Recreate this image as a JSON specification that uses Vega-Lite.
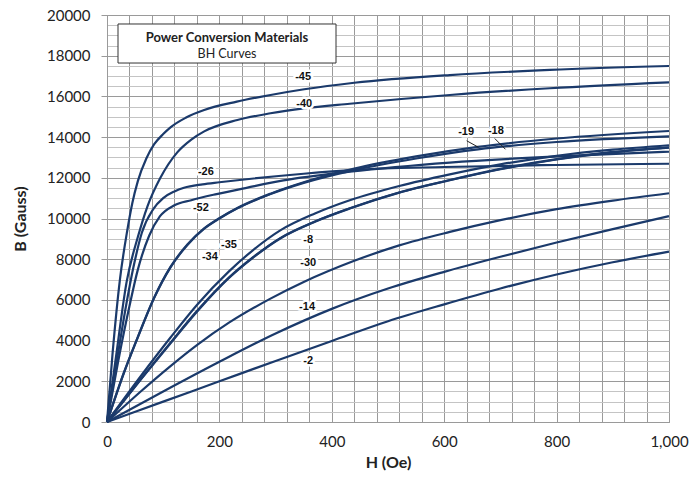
{
  "$schema": "https://vega.github.io/schema/vega-lite/v6.json",
  "width": 562,
  "height": 407,
  "autosize": {"type": "none"},
  "padding": {"left": 107, "top": 15, "right": 27, "bottom": 59},
  "background": "white",
  "config": {"view": {"stroke": "#999999", "strokeWidth": 1}, "font": "Lato"},
  "datasets": {
    "curves": [
      {"m": "-45", "h": 0, "b": 0}, {"m": "-45", "h": 10, "b": 3400}, {"m": "-45", "h": 23, "b": 7000}, {"m": "-45", "h": 36, "b": 9400}, {"m": "-45", "h": 45, "b": 10750}, {"m": "-45", "h": 55, "b": 11850}, {"m": "-45", "h": 70, "b": 12950}, {"m": "-45", "h": 84, "b": 13650}, {"m": "-45", "h": 100, "b": 14150}, {"m": "-45", "h": 113, "b": 14480}, {"m": "-45", "h": 140, "b": 14950}, {"m": "-45", "h": 173, "b": 15330}, {"m": "-45", "h": 231, "b": 15740}, {"m": "-45", "h": 291, "b": 16070}, {"m": "-45", "h": 351, "b": 16350}, {"m": "-45", "h": 440, "b": 16670}, {"m": "-45", "h": 610, "b": 17050}, {"m": "-45", "h": 788, "b": 17300}, {"m": "-45", "h": 1000, "b": 17494},
      {"m": "-40", "h": 0, "b": 0}, {"m": "-40", "h": 15, "b": 3000}, {"m": "-40", "h": 35, "b": 6900}, {"m": "-40", "h": 55, "b": 9100}, {"m": "-40", "h": 72, "b": 10600}, {"m": "-40", "h": 95, "b": 12000}, {"m": "-40", "h": 125, "b": 13250}, {"m": "-40", "h": 150, "b": 13880}, {"m": "-40", "h": 173, "b": 14280}, {"m": "-40", "h": 232, "b": 14840}, {"m": "-40", "h": 291, "b": 15170}, {"m": "-40", "h": 350, "b": 15410}, {"m": "-40", "h": 432, "b": 15640}, {"m": "-40", "h": 610, "b": 16070}, {"m": "-40", "h": 788, "b": 16400}, {"m": "-40", "h": 1000, "b": 16690},
      {"m": "-26", "h": 0, "b": 0}, {"m": "-26", "h": 15, "b": 2600}, {"m": "-26", "h": 30, "b": 5100}, {"m": "-26", "h": 47, "b": 7600}, {"m": "-26", "h": 62, "b": 9300}, {"m": "-26", "h": 82, "b": 10450}, {"m": "-26", "h": 100, "b": 11000}, {"m": "-26", "h": 120, "b": 11330}, {"m": "-26", "h": 137, "b": 11510}, {"m": "-26", "h": 170, "b": 11680}, {"m": "-26", "h": 200, "b": 11780}, {"m": "-26", "h": 232, "b": 11880}, {"m": "-26", "h": 350, "b": 12200}, {"m": "-26", "h": 440, "b": 12390}, {"m": "-26", "h": 600, "b": 12530}, {"m": "-26", "h": 800, "b": 12630}, {"m": "-26", "h": 1000, "b": 12690},
      {"m": "-52", "h": 0, "b": 0}, {"m": "-52", "h": 20, "b": 3000}, {"m": "-52", "h": 40, "b": 5700}, {"m": "-52", "h": 55, "b": 7500}, {"m": "-52", "h": 75, "b": 9150}, {"m": "-52", "h": 94, "b": 10100}, {"m": "-52", "h": 120, "b": 10650}, {"m": "-52", "h": 150, "b": 10900}, {"m": "-52", "h": 195, "b": 11200}, {"m": "-52", "h": 250, "b": 11520}, {"m": "-52", "h": 314, "b": 11870}, {"m": "-52", "h": 432, "b": 12300}, {"m": "-52", "h": 610, "b": 12750}, {"m": "-52", "h": 800, "b": 13050}, {"m": "-52", "h": 1000, "b": 13280},
      {"m": "-18", "h": 0, "b": 0}, {"m": "-18", "h": 30, "b": 2400}, {"m": "-18", "h": 54, "b": 4100}, {"m": "-18", "h": 84, "b": 6100}, {"m": "-18", "h": 113, "b": 7600}, {"m": "-18", "h": 143, "b": 8700}, {"m": "-18", "h": 173, "b": 9500}, {"m": "-18", "h": 200, "b": 10000}, {"m": "-18", "h": 232, "b": 10500}, {"m": "-18", "h": 291, "b": 11200}, {"m": "-18", "h": 350, "b": 11750}, {"m": "-18", "h": 440, "b": 12380}, {"m": "-18", "h": 550, "b": 12950}, {"m": "-18", "h": 660, "b": 13400}, {"m": "-18", "h": 800, "b": 13760}, {"m": "-18", "h": 1000, "b": 14040},
      {"m": "-19", "h": 0, "b": 0}, {"m": "-19", "h": 30, "b": 2420}, {"m": "-19", "h": 54, "b": 4120}, {"m": "-19", "h": 84, "b": 6120}, {"m": "-19", "h": 113, "b": 7620}, {"m": "-19", "h": 143, "b": 8720}, {"m": "-19", "h": 173, "b": 9520}, {"m": "-19", "h": 200, "b": 10020}, {"m": "-19", "h": 232, "b": 10520}, {"m": "-19", "h": 291, "b": 11220}, {"m": "-19", "h": 350, "b": 11780}, {"m": "-19", "h": 440, "b": 12450}, {"m": "-19", "h": 550, "b": 13050}, {"m": "-19", "h": 660, "b": 13520}, {"m": "-19", "h": 800, "b": 13930}, {"m": "-19", "h": 1000, "b": 14300},
      {"m": "-35", "h": 0, "b": 0}, {"m": "-35", "h": 60, "b": 2250}, {"m": "-35", "h": 113, "b": 4150}, {"m": "-35", "h": 160, "b": 5750}, {"m": "-35", "h": 217, "b": 7400}, {"m": "-35", "h": 260, "b": 8450}, {"m": "-35", "h": 309, "b": 9430}, {"m": "-35", "h": 370, "b": 10250}, {"m": "-35", "h": 432, "b": 10900}, {"m": "-35", "h": 520, "b": 11600}, {"m": "-35", "h": 610, "b": 12170}, {"m": "-35", "h": 700, "b": 12660}, {"m": "-35", "h": 800, "b": 13080}, {"m": "-35", "h": 900, "b": 13380}, {"m": "-35", "h": 1000, "b": 13600},
      {"m": "-34", "h": 0, "b": 0}, {"m": "-34", "h": 60, "b": 2100}, {"m": "-34", "h": 113, "b": 3900}, {"m": "-34", "h": 160, "b": 5450}, {"m": "-34", "h": 217, "b": 7100}, {"m": "-34", "h": 260, "b": 8100}, {"m": "-34", "h": 309, "b": 9050}, {"m": "-34", "h": 370, "b": 9850}, {"m": "-34", "h": 432, "b": 10500}, {"m": "-34", "h": 520, "b": 11280}, {"m": "-34", "h": 610, "b": 11880}, {"m": "-34", "h": 700, "b": 12420}, {"m": "-34", "h": 800, "b": 12900}, {"m": "-34", "h": 900, "b": 13250}, {"m": "-34", "h": 1000, "b": 13480},
      {"m": "-8", "h": 0, "b": 0}, {"m": "-8", "h": 60, "b": 2080}, {"m": "-8", "h": 113, "b": 3870}, {"m": "-8", "h": 160, "b": 5420}, {"m": "-8", "h": 217, "b": 7080}, {"m": "-8", "h": 260, "b": 8080}, {"m": "-8", "h": 309, "b": 9030}, {"m": "-8", "h": 370, "b": 9840}, {"m": "-8", "h": 432, "b": 10490}, {"m": "-8", "h": 520, "b": 11270}, {"m": "-8", "h": 610, "b": 11890}, {"m": "-8", "h": 700, "b": 12440}, {"m": "-8", "h": 800, "b": 12920}, {"m": "-8", "h": 900, "b": 13270}, {"m": "-8", "h": 1000, "b": 13500},
      {"m": "-30", "h": 0, "b": 0}, {"m": "-30", "h": 60, "b": 1500}, {"m": "-30", "h": 113, "b": 2750}, {"m": "-30", "h": 160, "b": 3780}, {"m": "-30", "h": 217, "b": 4880}, {"m": "-30", "h": 290, "b": 6050}, {"m": "-30", "h": 350, "b": 6880}, {"m": "-30", "h": 440, "b": 7920}, {"m": "-30", "h": 520, "b": 8680}, {"m": "-30", "h": 610, "b": 9340}, {"m": "-30", "h": 700, "b": 9920}, {"m": "-30", "h": 800, "b": 10460}, {"m": "-30", "h": 900, "b": 10880}, {"m": "-30", "h": 1000, "b": 11240},
      {"m": "-14", "h": 0, "b": 0}, {"m": "-14", "h": 100, "b": 1500}, {"m": "-14", "h": 200, "b": 2960}, {"m": "-14", "h": 300, "b": 4350}, {"m": "-14", "h": 400, "b": 5560}, {"m": "-14", "h": 500, "b": 6560}, {"m": "-14", "h": 600, "b": 7380}, {"m": "-14", "h": 700, "b": 8120}, {"m": "-14", "h": 800, "b": 8820}, {"m": "-14", "h": 900, "b": 9480}, {"m": "-14", "h": 1000, "b": 10120},
      {"m": "-2", "h": 0, "b": 0}, {"m": "-2", "h": 100, "b": 1000}, {"m": "-2", "h": 200, "b": 2000}, {"m": "-2", "h": 300, "b": 3000}, {"m": "-2", "h": 400, "b": 3980}, {"m": "-2", "h": 500, "b": 4950}, {"m": "-2", "h": 600, "b": 5780}, {"m": "-2", "h": 700, "b": 6560}, {"m": "-2", "h": 800, "b": 7250}, {"m": "-2", "h": 900, "b": 7850}, {"m": "-2", "h": 1000, "b": 8370}
    ],
    "labels": [
      {"t": "-45", "h": 349, "b": 16950},
      {"t": "-40", "h": 351, "b": 15630},
      {"t": "-26", "h": 176, "b": 12290},
      {"t": "-52", "h": 167, "b": 10520},
      {"t": "-35", "h": 217, "b": 8700},
      {"t": "-34", "h": 183, "b": 8110},
      {"t": "-8", "h": 358, "b": 8940},
      {"t": "-30", "h": 358, "b": 7810},
      {"t": "-14", "h": 356, "b": 5650},
      {"t": "-2", "h": 358, "b": 3000},
      {"t": "-19", "h": 639, "b": 14250},
      {"t": "-18", "h": 692, "b": 14300}
    ],
    "leaders": [
      {"t": "-19", "h": 640, "b": 13820, "h2": 661, "b2": 13500},
      {"t": "-18", "h": 690, "b": 13930, "h2": 709, "b2": 13400}
    ]
  },
  "layer": [
    {
      "data": {"name": "curves"},
      "mark": {"type": "line", "interpolate": "monotone", "color": "#1b3a6b", "strokeWidth": 2.2},
      "encoding": {
        "x": {
          "field": "h", "type": "quantitative",
          "scale": {"domain": [0, 1000], "nice": false, "zero": true},
          "axis": {
            "values": [0,40,80,120,160,200,240,280,320,360,400,440,480,520,560,600,640,680,720,760,800,840,880,920,960,1000],
            "tickCount": 100,
            "labelExpr": "datum.value % 200 === 0 ? format(datum.value, ',') : ''",
            "labelOverlap": false, "labelFlush": false,
            "grid": true, "gridColor": "#9a9a9a", "gridWidth": 1,
            "ticks": false, "domainColor": "#9a9a9a",
            "labelFont": "Lato", "labelFontSize": 15, "labelColor": "#222222", "labelPadding": 12,
            "title": "H (Oe)", "titleFont": "Lato", "titleFontSize": 16, "titleFontWeight": "bold", "titleColor": "#222222", "titlePadding": 5
          }
        },
        "y": {
          "field": "b", "type": "quantitative",
          "scale": {"domain": [0, 20000], "nice": false},
          "axis": {
            "values": [0,500,1000,1500,2000,2500,3000,3500,4000,4500,5000,5500,6000,6500,7000,7500,8000,8500,9000,9500,10000,10500,11000,11500,12000,12500,13000,13500,14000,14500,15000,15500,16000,16500,17000,17500,18000,18500,19000,19500,20000],
            "tickCount": 100,
            "labelExpr": "datum.value % 2000 === 0 ? format(datum.value, 'd') : ''",
            "labelOverlap": false, "labelFlush": false,
            "grid": true,
            "gridColor": {"condition": {"test": "datum.value % 2000 === 0", "value": "#9a9a9a"}, "value": "#c4c4c4"},
            "gridWidth": 1,
            "ticks": true, "tickSize": 6, "tickColor": "#9a9a9a",
            "tickOpacity": {"condition": {"test": "datum.value % 2000 === 0", "value": 1}, "value": 0},
            "domainColor": "#9a9a9a",
            "labelFont": "Lato", "labelFontSize": 15, "labelColor": "#222222", "labelPadding": 11,
            "title": "B (Gauss)", "titleFont": "Lato", "titleFontSize": 16, "titleFontWeight": "bold", "titleColor": "#222222", "titlePadding": 18
          }
        },
        "detail": {"field": "m"}
      }
    },
    {
      "data": {"values": [{}]},
      "mark": {"type": "rect", "fill": "white", "stroke": "#333333", "strokeWidth": 1},
      "encoding": {
        "x": {"datum": 19.6, "type": "quantitative"},
        "x2": {"datum": 407.5},
        "y": {"datum": 17640, "type": "quantitative"},
        "y2": {"datum": 19558}
      }
    },
    {
      "data": {"values": [{}]},
      "mark": {"type": "text", "font": "Lato", "fontSize": 13, "fontWeight": "bold", "color": "#222222", "text": "Power Conversion Materials"},
      "encoding": {
        "x": {"datum": 213.5, "type": "quantitative"},
        "y": {"datum": 18870, "type": "quantitative"}
      }
    },
    {
      "data": {"values": [{}]},
      "mark": {"type": "text", "font": "Lato", "fontSize": 12.5, "color": "#222222", "text": "BH Curves"},
      "encoding": {
        "x": {"datum": 213.5, "type": "quantitative"},
        "y": {"datum": 18080, "type": "quantitative"}
      }
    },
    {
      "data": {"name": "leaders"},
      "mark": {"type": "rule", "color": "#222222", "strokeWidth": 1},
      "encoding": {
        "x": {"field": "h", "type": "quantitative"},
        "y": {"field": "b", "type": "quantitative"},
        "x2": {"field": "h2"},
        "y2": {"field": "b2"}
      }
    },
    {
      "data": {"name": "labels"},
      "mark": {"type": "text", "font": "Liberation Sans", "fontSize": 11, "fontWeight": "bold", "stroke": "white", "strokeWidth": 5, "strokeJoin": "round", "fill": "white"},
      "encoding": {
        "x": {"field": "h", "type": "quantitative"},
        "y": {"field": "b", "type": "quantitative"},
        "text": {"field": "t"}
      }
    },
    {
      "data": {"name": "labels"},
      "mark": {"type": "text", "font": "Liberation Sans", "fontSize": 11, "fontWeight": "bold", "color": "#111111"},
      "encoding": {
        "x": {"field": "h", "type": "quantitative"},
        "y": {"field": "b", "type": "quantitative"},
        "text": {"field": "t"}
      }
    }
  ]
}
